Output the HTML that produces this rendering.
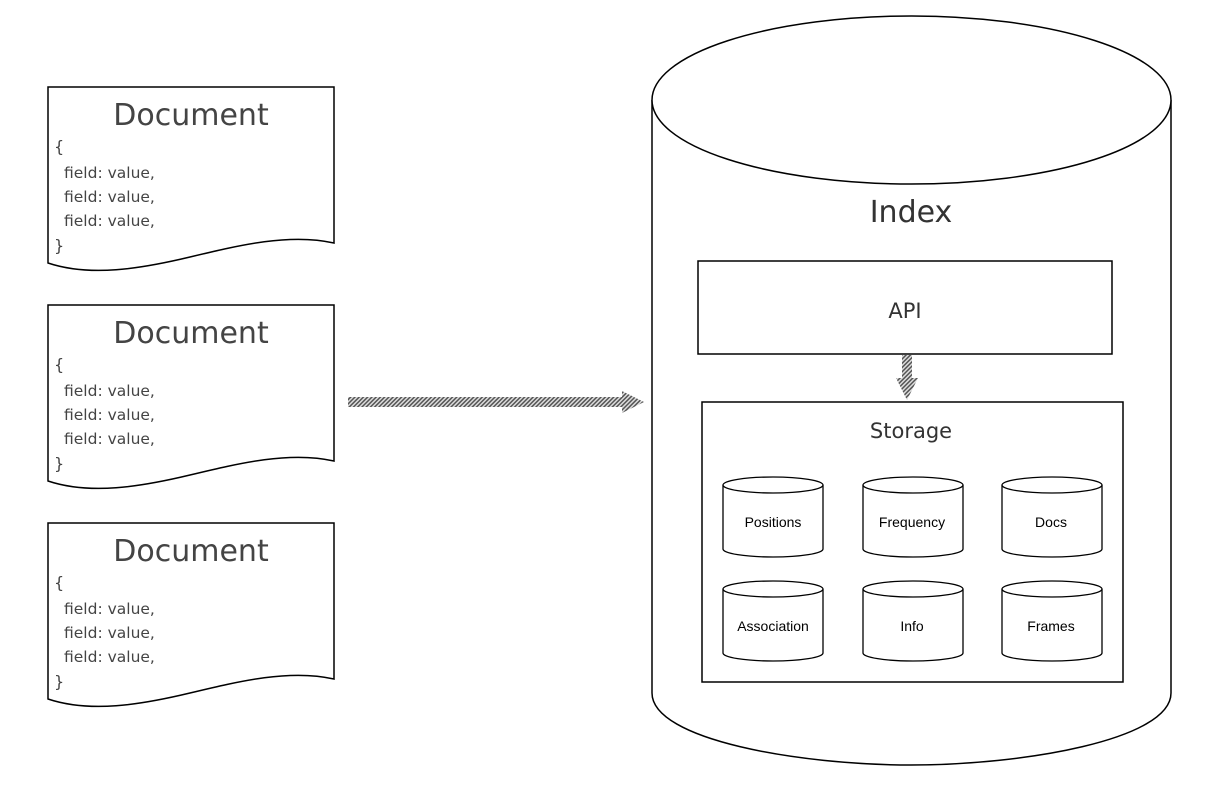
<!DOCTYPE html>
<html><head><meta charset="utf-8"><style>
html,body{margin:0;padding:0;background:#fff;}
svg{display:block;}
.doc{fill:#fff;stroke:#000;stroke-width:1.5;}
.t{font-family:"DejaVu Sans","Liberation Sans",sans-serif;fill:#444;font-weight:normal;}
.s{font-family:"Liberation Sans",Arial,sans-serif;fill:#000;font-size:14px;text-anchor:middle;}
</style></head><body>
<svg width="1209" height="804" viewBox="0 0 1209 804" xmlns="http://www.w3.org/2000/svg">
<defs>
<pattern id="hatch" width="3" height="3" patternUnits="userSpaceOnUse" patternTransform="rotate(45)">
<rect width="3" height="3" fill="#ddd"/><rect width="1.5" height="3" fill="#555"/>
</pattern>
<g id="doc">
<path class="doc" d="M48,0 H334 V156 C 290,146 240,158 190,170 C 140,182 90,190 48,176 Z"/>
<text class="t" x="191" y="38" font-size="30" text-anchor="middle">Document</text>
<text class="t" x="54" y="65" font-size="16">{</text>
<text class="t" x="64" y="91" font-size="15.5">field: value,</text>
<text class="t" x="64" y="115" font-size="15.5">field: value,</text>
<text class="t" x="64" y="139" font-size="15.5">field: value,</text>
<text class="t" x="54" y="164" font-size="16">}</text>
</g>
<g id="cyl">
<path d="M0,8 V72 A50,8 0 0 0 100,72 V8" fill="#fff" stroke="#000" stroke-width="1.3"/>
<ellipse cx="50" cy="8" rx="50" ry="8" fill="#fff" stroke="#000" stroke-width="1.3"/>
</g>
</defs>
<use href="#doc" x="0" y="87"/>
<use href="#doc" x="0" y="305"/>
<use href="#doc" x="0" y="523"/>
<path d="M348,397 H622 V391 L644,402 L622,413 V407 H348 Z" fill="url(#hatch)"/>
<path d="M652,100 V693 C652,740 800,765 911,765 C1022,765 1171,740 1171,693 V100" fill="#fff" stroke="#000" stroke-width="1.5"/>
<ellipse cx="911.5" cy="100" rx="259.5" ry="84" fill="#fff" stroke="#000" stroke-width="1.5"/>
<text class="t" x="911" y="222" font-size="30" text-anchor="middle" style="fill:#333">Index</text>
<rect x="698" y="261" width="414" height="93" fill="#fff" stroke="#000" stroke-width="1.5"/>
<text class="t" x="905" y="318" font-size="21" text-anchor="middle" style="fill:#333">API</text>
<path d="M902,355 H912 V378 H918 L907,400 L896,378 H902 Z" fill="url(#hatch)"/>
<rect x="702" y="402" width="421" height="280" fill="#fff" stroke="#000" stroke-width="1.5"/>
<text class="t" x="911" y="438" font-size="21" text-anchor="middle" style="fill:#333">Storage</text>
<use href="#cyl" x="723" y="477"/>
<use href="#cyl" x="863" y="477"/>
<use href="#cyl" x="1002" y="477"/>
<use href="#cyl" x="723" y="581"/>
<use href="#cyl" x="863" y="581"/>
<use href="#cyl" x="1002" y="581"/>
<text class="s" x="773" y="527">Positions</text>
<text class="s" x="912" y="527">Frequency</text>
<text class="s" x="1051" y="527">Docs</text>
<text class="s" x="773" y="631">Association</text>
<text class="s" x="912" y="631">Info</text>
<text class="s" x="1051" y="631">Frames</text>
</svg>
</body></html>
